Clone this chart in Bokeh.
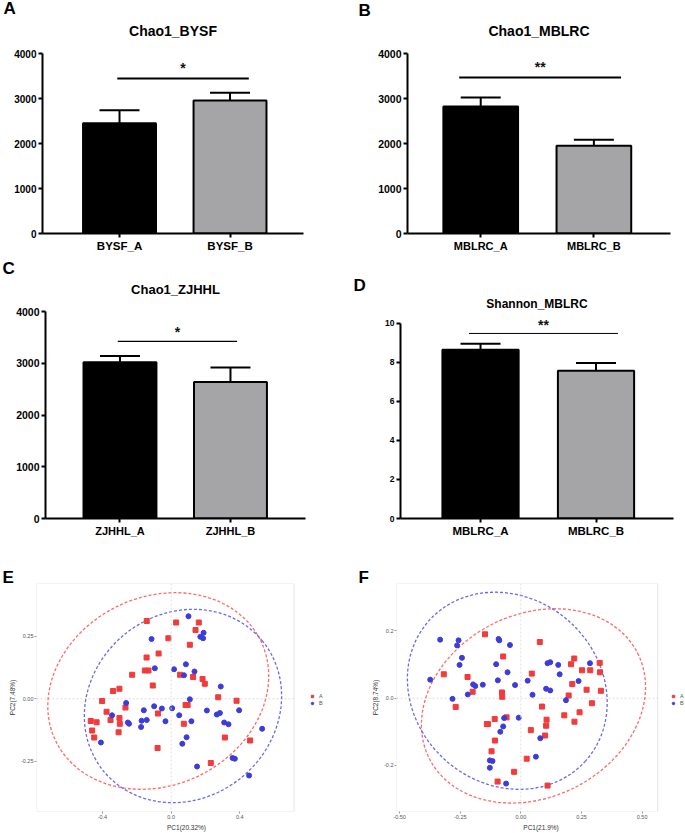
from bokeh.plotting import figure
from bokeh.layouts import column, row
from bokeh.models import (Range1d, FixedTicker, Span, Legend, LegendItem, Title,
                          NumeralTickFormatter, BoxAnnotation)
from bokeh.embed import file_html
from bokeh.resources import INLINE
from bokeh.core.properties import value

# ---------------- bar chart data (mean, upper SD) ----------------
a_groups = ["BYSF_A", "BYSF_B"]
a_means = [2450, 2955]
a_errs = [290, 175]
a_sig = "*"
a_sig_y = 3446
a_sig_span = [-0.02, 1.17]
a_star_y = 3680

b_groups = ["MBLRC_A", "MBLRC_B"]
b_means = [2820, 1950]
b_errs = [200, 133]
b_sig = "**"
b_sig_y = 3467
b_sig_span = [-0.19, 1.24]
b_star_y = 3700

c_groups = ["ZJHHL_A", "ZJHHL_B"]
c_means = [3020, 2640]
c_errs = [122, 276]
c_sig = "*"
c_sig_y = 3423
c_sig_span = [-0.02, 1.06]
c_star_y = 3600

d_groups = ["MBLRC_A", "MBLRC_B"]
d_means = [8.65, 7.58]
d_errs = [0.31, 0.39]
d_sig = "**"
d_sig_y = 9.49
d_sig_span = [-0.10, 1.19]
d_star_y = 9.9

chao_ticks = [0, 1000, 2000, 3000, 4000]
shannon_ticks = [0, 2, 4, 6, 8, 10]

# ---------------- PCoA data ----------------
e_a_x = [-0.142, 0.029, -0.016, -0.143, -0.073, -0.227, -0.153, -0.132, 0.052, -0.107,
         -0.338, -0.301, -0.402, -0.376, -0.266, -0.353, -0.301, -0.299, -0.468, -0.434,
         -0.460, -0.448, -0.306, -0.077, -0.079, 0.096, 0.084, 0.074, 0.109, 0.128,
         0.142, 0.161, 0.183, 0.196, 0.274, 0.381, 0.313, 0.460, 0.231]
e_a_y = [0.311, 0.305, 0.242, 0.165, 0.181, 0.096, 0.113, 0.113, 0.096, 0.053,
         0.031, 0.040, -0.009, -0.052, -0.035, -0.085, -0.077, -0.100, -0.089, -0.094,
         -0.127, -0.155, -0.134, -0.059, -0.197, -0.025, -0.025, -0.100, 0.216, 0.087,
         0.275, 0.305, 0.079, 0.060, 0.006, -0.008, -0.155, -0.167, -0.257]
e_b_x = [0.101, -0.114, 0.170, 0.186, 0.189, -0.095, 0.017, 0.086, 0.075, 0.136,
         -0.262, -0.344, -0.252, -0.245, -0.159, -0.099, -0.054, 0.006, -0.172, -0.142,
         -0.033, -0.175, 0.047, 0.109, 0.118, 0.090, 0.065, -0.409, 0.151, 0.208,
         0.266, 0.284, 0.289, 0.309, 0.334, 0.396, 0.530, 0.358, 0.371, 0.454]
e_b_y = [0.330, 0.239, 0.248, 0.242, 0.264, 0.122, 0.118, 0.138, 0.094, 0.109,
         -0.017, -0.066, -0.095, -0.100, -0.046, -0.030, -0.039, -0.038, -0.088, -0.085,
         -0.090, -0.113, -0.066, -0.002, -0.090, -0.154, -0.180, -0.175, -0.271, -0.047,
         -0.063, -0.057, 0.049, -0.095, -0.102, -0.046, -0.120, -0.237, -0.240, -0.307]
# confidence ellipses [A, B]
e_ell_x = [-0.075, 0.069]
e_ell_y = [0.031, -0.029]
e_ell_w = [1.329, 1.196]
e_ell_h = [0.752, 0.739]
e_ell_angle = [0.46, 0.69]
e_box_x = [-0.784, 0.716]
e_box_y = [-0.451, 0.461]

f_a_x = [-0.148, -0.073, -0.318, -0.220, -0.199, -0.078, -0.077, -0.269, -0.140, -0.136,
         -0.108, -0.059, -0.107, -0.121, -0.096, -0.028, 0.024, 0.041, 0.045, 0.078,
         0.087, 0.106, 0.104, 0.100, 0.110, 0.179, 0.197, 0.212, 0.207, 0.220,
         0.252, 0.242, 0.221, 0.271, 0.286, 0.325, 0.326, 0.330, 0.293]
f_a_y = [0.190, 0.124, 0.071, 0.063, 0.019, 0.017, 0.004, -0.026, -0.077, -0.077,
         -0.062, -0.057, -0.126, -0.158, -0.248, -0.219, -0.180, -0.095, 0.073, 0.167,
         -0.025, -0.064, -0.082, -0.111, -0.260, -0.051, 0.008, 0.042, 0.101, 0.118,
         0.083, -0.042, -0.070, 0.025, 0.083, 0.105, 0.077, 0.022, -0.015]
f_b_x = [-0.333, -0.257, -0.263, -0.092, -0.089, -0.045, -0.243, -0.253, -0.102, -0.055,
         -0.374, -0.197, -0.188, -0.157, -0.095, -0.024, -0.219, -0.282, 0.028, -0.069,
         -0.073, -0.085, -0.009, -0.128, -0.117, -0.128, -0.061, 0.048, 0.110, 0.121,
         0.154, 0.160, 0.104, 0.121, 0.186, 0.238, 0.285, 0.080, 0.062]
f_b_y = [0.174, 0.172, 0.157, 0.176, 0.172, 0.158, 0.120, 0.099, 0.101, 0.077,
         0.055, 0.041, 0.036, 0.040, 0.053, 0.039, 0.011, -0.002, 0.052, -0.059,
         -0.084, -0.100, -0.058, -0.185, -0.187, -0.207, -0.254, 0.010, 0.104, 0.107,
         0.099, 0.071, 0.028, 0.023, -0.006, 0.051, 0.104, -0.119, -0.174]
f_ell_x = [0.052, -0.056]
f_ell_y = [-0.023, 0.022]
f_ell_w = [0.963, 0.867]
f_ell_h = [0.544, 0.553]
f_ell_angle = [0.468, -0.73]
f_box_x = [-0.513, 0.564]
f_box_y = [-0.337, 0.341]

FONT = "Liberation Sans"
BAR_COLORS = ["#000000", "#a5a5a8"]
RED = "#f23b3b"
BLUE = "#3c3cd8"
RED_ELL = "#ff6a6a"
BLUE_ELL = "#6a6af0"


def letter_title(p, letter, offset, standoff):
    p.title.text = letter
    p.title.align = "left"
    p.title.offset = offset
    p.title.standoff = standoff
    p.title.text_font = FONT
    p.title.text_font_size = "17px"
    p.title.text_font_style = "bold"
    p.title.text_color = "black"


def bar_panel(letter, title, groups, means, errs, sig, sig_y, sig_span, star_y,
              yticks, y_axis_top, y_view_top, xr, width, height, borders, letter_off,
              letter_standoff, title_size, title_standoff, ytick_size, xtick_size,
              sig_width, star_size):
    left, right, top, bottom = borders
    p = figure(width=width, height=height, x_range=Range1d(*xr),
               y_range=Range1d(0, y_view_top),
               output_backend="svg", toolbar_location=None,
               min_border_left=left, min_border_right=right,
               min_border_top=top, min_border_bottom=bottom)
    p.outline_line_color = None
    p.xgrid.visible = False
    p.ygrid.visible = False
    pos = list(range(len(groups)))
    uppers = [m + e for m, e in zip(means, errs)]
    p.segment(x0=pos, y0=means, x1=pos, y1=uppers, line_color="black", line_width=2)
    p.scatter(x=pos, y=uppers, marker="dash", size=40, line_color="black", line_width=2)
    p.vbar(x=pos, top=means, bottom=0, width=0.66, fill_color=BAR_COLORS,
           line_color="black", line_width=2)
    p.segment(x0=[sig_span[0]], y0=[sig_y], x1=[sig_span[1]], y1=[sig_y],
              line_color="black", line_width=sig_width)
    p.text(x=[(sig_span[0] + sig_span[1]) / 2], y=[star_y], text=[sig],
           text_align="center", text_baseline="middle", text_font=value(FONT),
           text_font_size=star_size, text_font_style="bold", text_color="#111111")

    letter_title(p, letter, letter_off, letter_standoff)
    p.add_layout(Title(text=title, align="center", standoff=title_standoff,
                       text_font=FONT, text_font_size=title_size, text_font_style="bold",
                       text_color="black"), "above")

    p.xaxis.ticker = FixedTicker(ticks=pos)
    p.xaxis.major_label_overrides = {i: g for i, g in enumerate(groups)}
    p.yaxis.ticker = FixedTicker(ticks=yticks)
    p.yaxis.bounds = (0, y_axis_top)
    for ax in (p.xaxis[0], p.yaxis[0]):
        ax.axis_line_color = "black"
        ax.axis_line_width = 2
        ax.major_tick_line_color = "black"
        ax.major_tick_line_width = 2
        ax.major_tick_in = 0
        ax.major_tick_out = 4
        ax.minor_tick_line_color = None
        ax.major_label_text_font = FONT
        ax.major_label_text_font_style = "bold"
        ax.major_label_text_color = "black"
        ax.major_label_standoff = 2
    p.yaxis.major_label_text_font_size = ytick_size
    p.xaxis.major_label_text_font_size = xtick_size
    return p


def pca_panel(letter, ax_, ay_, bx_, by_, ell, box_x, box_y, x_end, xticks, yticks,
              xfmt, yfmt, xlabel, ylabel, width, height, borders, letter_off, legend_loc):
    left, right, top, bottom = borders
    p = figure(width=width, height=height, x_range=Range1d(box_x[0], x_end),
               y_range=Range1d(box_y[0], box_y[1]),
               output_backend="svg", toolbar_location=None,
               min_border_left=left, min_border_right=right,
               min_border_top=top, min_border_bottom=bottom)
    p.xgrid.visible = False
    p.ygrid.visible = False
    p.outline_line_color = None
    p.add_layout(BoxAnnotation(left=box_x[0], right=box_x[1], bottom=box_y[0], top=box_y[1],
                               fill_alpha=0, line_color="#b5b5b5", line_width=1.2))
    p.add_layout(Span(location=0, dimension="height", line_color="#dcdcdc",
                      line_dash="2 2", line_width=1))
    p.segment(x0=[box_x[0]], y0=[0], x1=[box_x[1]], y1=[0], line_color="#dcdcdc",
              line_dash="2 2", line_width=1)
    ex, ey, ew, eh, ea = ell
    p.ellipse(x=ex, y=ey, width=ew, height=eh, angle=ea, fill_color=None,
              line_color=[RED_ELL, BLUE_ELL], line_dash="3 2", line_width=1.3)
    ra = p.scatter(x=ax_, y=ay_, marker="square", size=5, fill_color=RED, line_color=RED)
    rb = p.scatter(x=bx_, y=by_, marker="circle", size=5, fill_color=BLUE, line_color=BLUE)
    la = p.line(x=[], y=[], line_color=RED, line_width=1.5)
    lb = p.line(x=[], y=[], line_color=BLUE, line_width=1.5)
    p.add_layout(Legend(items=[LegendItem(label="A", renderers=[la, ra]),
                               LegendItem(label="B", renderers=[lb, rb])],
                        location=legend_loc, margin=0, padding=0, spacing=1,
                        glyph_width=10, glyph_height=6, label_height=6, label_standoff=2,
                        label_text_font=FONT, label_text_font_size="5.5px",
                        label_text_color="#555555", border_line_color=None,
                        background_fill_alpha=0))

    letter_title(p, letter, letter_off, -6)

    p.xaxis.ticker = FixedTicker(ticks=xticks)
    p.yaxis.ticker = FixedTicker(ticks=yticks)
    p.xaxis.bounds = (box_x[0], box_x[1])
    p.xaxis.formatter = NumeralTickFormatter(format=xfmt)
    p.yaxis.formatter = NumeralTickFormatter(format=yfmt)
    p.xaxis.axis_label = xlabel
    p.yaxis.axis_label = ylabel
    for axis in (p.xaxis[0], p.yaxis[0]):
        axis.axis_line_color = None
        axis.major_tick_line_color = "#999999"
        axis.major_tick_in = 0
        axis.major_tick_out = 2
        axis.minor_tick_line_color = None
        axis.major_label_text_font = FONT
        axis.major_label_text_font_size = "5.5px"
        axis.major_label_text_color = "#555555"
        axis.major_label_standoff = 1
        axis.axis_label_text_font = FONT
        axis.axis_label_text_font_size = "6.5px"
        axis.axis_label_text_font_style = "normal"
        axis.axis_label_text_color = "#333333"
        axis.axis_label_standoff = 2
    p.yaxis.major_label_orientation = "horizontal"
    return p


pa = bar_panel("A", "Chao1_BYSF", a_groups, a_means, a_errs, a_sig, a_sig_y, a_sig_span, a_star_y,
               chao_ticks, 4000, 4000, (-0.697, 1.665), 340, 258, (42, 37, 53, 25), -39, -24,
               "14px", 30, "10px", "11.5px", 2, "14px")
pb = bar_panel("B", "Chao1_MBLRC", b_groups, b_means, b_errs, b_sig, b_sig_y, b_sig_span, b_star_y,
               chao_ticks, 4000, 4000, (-0.647, 1.677), 345, 258, (67, 15, 53, 25), -49, -28,
               "14px", 30, "10.5px", "11px", 2, "14px")
pc = bar_panel("C", "Chao1_ZJHHL", c_groups, c_means, c_errs, c_sig, c_sig_y, c_sig_span, c_star_y,
               chao_ticks, 4000, 4000, (-0.674, 1.679), 340, 287, (45, 35, 53, 27), -43, -24,
               "13px", 29, "10.5px", "11px", 1.2, "14px")
pd_ = bar_panel("D", "Shannon_MBLRC", d_groups, d_means, d_errs, d_sig, d_sig_y, d_sig_span, d_star_y,
                shannon_ticks, 10, 10.615, (-0.693, 1.671), 345, 287, (60, 12, 53, 27), -47, -2,
                "12px", 2, "8.5px", "11.5px", 1, "14px")

pe = pca_panel("E", e_a_x, e_a_y, e_b_x, e_b_y,
               (e_ell_x, e_ell_y, e_ell_w, e_ell_h, e_ell_angle), e_box_x, e_box_y, 0.963,
               [-0.4, 0.0, 0.4], [-0.25, 0.0, 0.25], "0.0", "0.00", "PC1(20.32%)", "PC2(7.48%)",
               340, 288, (36, 4, 38, 18), -34, (271, 105))
pf = pca_panel("F", f_a_x, f_a_y, f_b_x, f_b_y,
               (f_ell_x, f_ell_y, f_ell_w, f_ell_h, f_ell_angle), f_box_x, f_box_y, 0.679,
               [-0.5, -0.25, 0.0, 0.25, 0.5], [-0.2, 0.0, 0.2], "0.00", "0.0", "PC1(21.9%)", "PC2(8.74%)",
               345, 288, (56, 0, 38, 18), -38, (272, 105))

layout = column(row(pa, pb), row(pc, pd_), row(pe, pf))

with open("out.html", "w") as fh:
    fh.write(file_html(layout, INLINE))
